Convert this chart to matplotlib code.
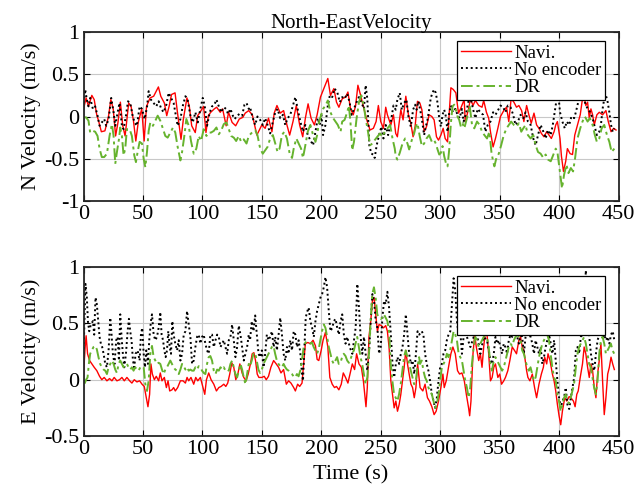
import matplotlib
matplotlib.use("Agg")
from matplotlib import pyplot as plt

plt.rcParams['font.family'] = ['Liberation Serif', 'DejaVu Serif']

# (time s, velocity m/s)
n_navi = [(0, 0.09), (2.2, 0.22), (4.2, 0.12), (7, 0.25), (9, 0.2), (11, 0.03), (13, -0.07), (15, -0.18),
          (18, -0.17), (21, 0.0), (23, 0.2), (25, 0.09), (27, -0.23), (29, -0.07), (31, 0.17), (33, -0.11),
          (35, -0.23), (38, 0.16), (40, 0.12), (42, -0.05), (44, -0.29), (46, -0.07), (49, 0.09), (51, -0.29),
          (53, 0.12), (56, 0.22), (59, 0.24), (63, 0.35), (65, 0.24), (68, 0.16), (70, 0.01), (72, 0.12),
          (74, 0.26), (77, 0.28), (79, 0.05), (82, -0.27), (84, -0.03), (87, 0.22), (89, 0.12), (91, -0.11),
          (94, -0.19), (96, 0.01), (98, 0.05), (101, 0.12), (103, -0.19), (105, 0.01), (107, 0.05), (110, 0.09),
          (112, 0.11), (115, 0.05), (117, 0.09), (120, -0.11), (122, 0.05), (125, -0.07), (128, -0.11),
          (131, -0.03), (134, -0.01), (136, 0.04), (139, 0.07), (142, 0.02), (145.8, -0.22), (150, -0.1),
          (152.8, -0.14), (155.6, -0.02), (158.5, -0.18), (160.4, 0.04), (162.7, 0.13), (165.5, 0.04),
          (168.3, 0.07), (171.1, -0.1), (173.4, -0.22), (176.2, -0.06), (179, 0.13), (181.8, -0.1),
          (184.4, -0.24), (186.6, -0.02), (188.9, 0.15), (191.4, -0.02), (194.2, -0.1), (196.5, 0.02),
          (199.3, 0.23), (202.1, 0.33), (205.5, 0.45), (207.7, 0.25), (210.6, 0.33), (212.8, 0.17),
          (214.8, 0.11), (217.6, 0.21), (220.4, 0.23), (222.4, 0.29), (224.6, 0.09), (226.9, 0.02),
          (228.9, 0.13), (230.8, 0.37), (233.1, 0.25), (235.9, 0.09), (238.7, -0.06), (241, -0.16),
          (243.8, -0.14), (246.1, -0.06), (248, 0.13), (250, -0.06), (252.3, -0.14), (254.2, 0.11),
          (255.6, 0.02), (258.5, -0.1), (260.7, 0.02), (262.6, -0.2), (264, -0.24), (266.9, 0.08),
          (268.8, -0.04), (271.1, 0.24), (273.3, 0.02), (275.3, -0.08), (277.2, -0.24), (278.9, -0.12),
          (280.9, 0.18), (282.9, 0.16), (284.6, 0.08), (286.5, -0.18), (288.5, -0.12), (290.7, 0.02),
          (293, 0.0), (294.9, -0.04), (296.9, -0.24), (298.6, -0.28), (300.6, -0.22), (302.5, -0.14),
          (304.2, -0.26), (306.2, -0.3), (307.6, 0.04), (309, 0.34), (311, 0.32), (313.2, 0.28),
          (315.4, 0.04), (317.4, 0.1), (320.2, 0.2), (321.1, -0.06), (323.9, 0.09),
          (325.4, 0.21), (327.6, 0.13), (329.6, 0.19), (332.4, 0.13), (335.2, 0.11), (336.6, 0.19),
          (338.9, 0.05), (340.8, -0.02), (342.3, -0.18), (344.5, -0.36), (346.5, -0.26), (348.5, -0.14),
          (350.7, 0.0), (353.5, 0.07), (355.8, 0.11), (357.7, -0.06), (359.7, 0.21), (362, 0.17), (364.2, 0.11),
          (366.2, 0.13), (368.5, 0.07), (370.4, -0.06), (372.7, 0.13), (374.6, 0.02), (376.6, -0.08),
          (378.9, 0.04), (381.1, -0.1), (383.1, -0.14), (385.1, -0.2), (387.3, -0.24), (389.6, -0.18),
          (391.6, -0.22), (393.5, -0.26), (395.8, -0.18), (397.2, -0.1), (398.6, -0.06), (400.8, -0.26),
          (402, -0.47), (403.7, -0.65), (405.6, -0.53), (407, -0.38), (409.3, -0.44), (411.3, -0.45),
          (413.2, -0.22), (415.5, -0.1), (417.8, 0.02), (419.7, 0.21), (421.1, 0.23), (422.5, 0.13),
          (424, 0.17), (425.4, -0.02), (426.8, 0.09), (428.2, 0.02), (429.6, -0.1), (431.8, 0.02),
          (433.8, 0.05), (436.6, 0.02), (439.4, 0.07), (441.4, -0.06), (443.7, -0.18), (445.9, -0.14),
          (447.9, -0.16)]

n_noenc = [(0, 0.16), (1.4, 0.32), (2.8, 0.2), (4.2, 0.12), (5.6, 0.22), (7.9, 0.09), (9.8, 0.12), (11.8, 0.01),
           (13.5, -0.11), (15.4, -0.07), (17.4, -0.03), (19.1, -0.11), (21.1, -0.03), (23.3, 0.22), (25.3, 0.05),
           (26.7, -0.11), (28.7, 0.05), (30.3, 0.16), (32.3, -0.11), (33.7, -0.15), (35.7, 0.01), (37.4, 0.18),
           (39.3, 0.16), (41.3, 0.01), (43, -0.07), (44.9, -0.11), (47.2, 0.12), (49.2, 0.09), (51.4, -0.03),
           (53.4, 0.11), (54.8, 0.3), (56.7, 0.2), (59, 0.16), (61.2, 0.12), (63.2, 0.18), (65.4, 0.09),
           (67.4, 0.05), (69.7, 0.14), (71.6, 0.28), (73.6, 0.22), (75.8, 0.16), (77.2, 0.05), (79.2, -0.11),
           (81.5, -0.03), (83.4, 0.12), (85.7, 0.24), (87.6, 0.2), (89.9, 0.01), (91.9, -0.07), (94.1, 0.05),
           (96.1, -0.07), (98.3, 0.09), (100.3, 0.22), (102, 0.12), (103.9, -0.11), (106.2, 0.05), (108.1, 0.12),
           (110.1, 0.14), (111.8, 0.2), (113.8, 0.12), (115.7, 0.05), (118, 0.11), (119.9, 0.09), (121.6, 0.03),
           (123.6, 0.09), (125.6, 0.01), (127.2, -0.03), (129.2, 0.01), (131.2, 0.03), (133.4, 0.01),
           (135.4, 0.14), (137.1, 0.16), (139, 0.09), (140.1, 0.11), (142.4, -0.02), (144.4, -0.1),
           (146.3, 0.0), (148.6, -0.04), (150.8, -0.1), (152.8, -0.02), (154.8, -0.1), (157, -0.2),
           (159.3, -0.06), (161.3, 0.05), (163.2, 0.09), (165.5, -0.02), (167.7, 0.02), (169.7, -0.1),
           (171.7, -0.02), (173.9, 0.02), (176.2, 0.13), (178.2, 0.23), (180.1, 0.09), (182.4, -0.06),
           (184.6, -0.18), (186.6, -0.1), (188.6, -0.22), (190.8, -0.28), (193.1, -0.34), (195.1, -0.18),
           (197, -0.02), (198.7, -0.1), (200.1, 0.02), (201.5, -0.22), (203.5, -0.1), (205.5, 0.13),
           (207.2, 0.25), (209.2, 0.23), (211.1, 0.33), (213.4, 0.29), (215.6, 0.17), (217.6, 0.23),
           (219.6, 0.21), (221.8, 0.27), (223.8, 0.17), (225.5, 0.02), (227.5, 0.09), (229.7, 0.17),
           (231.7, 0.23), (233.7, 0.17), (235.9, 0.09), (237.3, 0.37), (238.7, 0.21), (240.4, -0.34),
           (242.1, -0.44), (243.8, -0.45), (244.9, -0.49), (246.6, -0.34), (248.6, -0.22), (250.6, -0.12),
           (252.3, -0.26), (254.2, -0.1), (256.2, -0.22), (258.5, -0.06), (260.7, 0.13), (262.6, 0.08),
           (264, 0.2), (266, 0.28), (267.7, 0.08), (269.7, 0.16), (271.6, 0.2), (273.3, 0.0), (275.3, -0.12),
           (277.2, 0.08), (278.9, 0.14), (280.1, 0.08), (281.7, 0.18), (283.7, 0.04), (285.1, -0.08),
           (286.5, -0.22), (287.9, -0.12), (289.3, -0.04), (290.7, 0.08), (292.1, 0.22), (293.5, 0.28),
           (294.9, 0.32), (296.3, 0.28), (297.8, 0.16), (299.2, -0.02), (300.6, -0.12), (302, 0.02),
           (303.4, 0.08), (304.8, 0.0), (306.2, -0.18), (307.6, 0.04), (309, 0.13), (310.7, 0.05),
           (312.7, 0.09), (314.6, 0.02), (316.3, -0.02), (318.3, 0.09), (319.7, -0.06), (322, 0.05),
           (323.9, 0.19), (325.4, 0.23), (327.6, 0.09), (329.6, -0.02), (331.6, 0.09), (333.8, 0.05),
           (336.1, 0.02), (338, -0.18), (340, -0.1), (342.3, -0.06), (344.5, 0.05), (346.5, 0.02),
           (348.5, 0.07), (350.7, 0.13), (353, 0.11), (354.9, 0.05), (356.9, 0.13), (359.2, 0.11),
           (361.4, 0.02), (363.4, -0.1), (365.4, -0.06), (367.6, 0.02), (369.9, -0.02), (371.8, 0.05),
           (373.8, -0.06), (376.1, -0.1), (378.3, -0.26), (380.3, -0.34), (382.3, -0.22), (384.5, -0.1),
           (386.8, -0.18), (388.7, -0.26), (390.7, -0.16), (393, -0.22), (394.7, -0.1), (396.3, 0.05),
           (398, 0.21), (399.2, 0.29), (400.8, 0.05), (402.8, -0.06), (404.8, -0.14), (406.5, -0.06),
           (408.5, -0.1), (410.4, 0.0), (412.7, -0.02), (414.1, 0.05), (416.1, 0.17), (417.8, 0.25),
           (419.7, 0.29), (421.7, 0.17), (424, 0.09), (426.2, 0.05), (428.2, -0.02), (429.6, -0.1),
           (431.8, -0.22), (433.8, -0.18), (435.2, -0.1), (436.6, 0.09), (438, 0.21), (439.4, 0.25),
           (440.9, 0.17), (442.3, 0.05), (443.7, -0.1), (445.1, -0.18), (446.5, -0.14)]

n_dr = [(0, -0.01), (2.2, -0.01), (4.2, -0.05), (5.6, -0.19), (7.9, -0.17), (9.8, -0.18), (11.8, -0.23),
        (13.5, -0.38), (15.4, -0.48), (17.4, -0.48), (19.7, -0.44), (21.9, -0.23), (23.9, -0.09), (25.3, -0.23),
        (26.7, -0.56), (28.1, -0.42), (29.8, -0.27), (30.9, -0.13), (32.3, -0.23), (33.7, -0.46), (35.1, -0.38),
        (36.5, -0.15), (38.8, -0.15), (40.7, -0.23), (42.7, -0.46), (44.1, -0.54), (45.5, -0.42), (47.2, -0.3),
        (49.2, -0.32), (50.6, -0.5), (52, -0.6), (53.4, -0.42), (54.8, -0.17), (56.2, -0.07), (58.4, -0.11),
        (60.4, -0.05), (62.4, 0.01), (64.6, -0.05), (66.9, -0.15), (68.8, -0.23), (70.8, -0.25), (73, -0.19),
        (75.3, -0.13), (77.2, -0.19), (79.2, -0.36), (81.5, -0.52), (82.9, -0.42), (84.8, -0.23),
        (86.5, -0.03), (88.5, -0.11), (90.4, -0.29), (92.7, -0.44), (94.9, -0.38), (96.9, -0.23),
        (98.9, -0.29), (101.1, -0.15), (103.4, -0.23), (105.3, -0.19), (107.3, -0.19), (109.6, -0.17),
        (111.8, -0.13), (113.8, -0.21), (115.7, -0.17), (118, -0.09), (120.2, -0.07), (122.2, -0.15),
        (124.2, -0.23), (126.4, -0.25), (128.4, -0.29), (130.6, -0.23), (132.6, -0.3), (134.8, -0.27),
        (137.1, -0.32), (139, -0.23), (142.4, -0.18), (144.4, -0.16), (146.3, -0.22), (148.6, -0.38),
        (150.8, -0.44), (152.8, -0.4), (154.8, -0.36), (157, -0.26), (159.3, -0.22), (161.3, -0.32),
        (163.2, -0.42), (164.9, -0.38), (166.9, -0.22), (168.9, -0.18), (171.1, -0.26), (173.4, -0.44),
        (175.4, -0.49), (176.8, -0.38), (179, -0.26), (181, -0.32), (183, -0.38), (184.6, -0.49),
        (186.6, -0.34), (188.6, -0.18), (190.8, -0.1), (193.1, -0.22), (195.1, -0.3), (196.5, -0.22),
        (197.9, -0.08), (199.9, 0.02), (201.5, 0.09), (203.5, 0.13), (205.5, 0.19), (207.7, 0.05),
        (210, -0.02), (211.9, -0.06), (213.9, -0.1), (216.2, -0.18), (217.6, -0.06), (219.6, -0.04),
        (221.8, 0.05), (223.2, 0.13), (224.6, -0.08), (226, -0.4), (227.5, -0.3), (229.7, -0.02),
        (231.7, 0.17), (233.7, 0.25), (235.9, 0.11), (237.3, -0.02), (239.3, -0.18), (241, -0.34),
        (243, -0.32), (244.9, -0.28), (247.2, -0.24), (249.4, -0.2), (251.4, -0.24), (253.4, -0.18),
        (255.6, -0.14), (257.9, -0.1), (259.9, -0.26), (261.8, -0.38), (262.6, -0.47), (264, -0.51),
        (266, -0.43), (268.3, -0.32), (270.5, -0.26), (272.5, -0.32), (273.9, -0.39), (276.1, -0.28),
        (278.1, -0.2), (279.5, -0.12), (280.9, -0.08), (282.9, -0.24), (284.6, -0.35), (286.5, -0.32),
        (288.5, -0.26), (290.7, -0.22), (293, -0.3), (294.9, -0.28), (296.3, -0.32), (297.8, -0.39),
        (299.2, -0.45), (300.6, -0.43), (302, -0.35), (303.4, -0.47), (304.8, -0.55), (306.2, -0.59),
        (307.6, -0.39), (309, -0.08), (310.4, 0.12), (311.8, 0.14), (313.2, 0.08), (314.6, 0.0),
        (316, -0.04), (317.4, -0.12), (318.8, -0.08), (320.3, -0.14), (322.5, -0.02), (324.8, 0.13),
        (326.8, -0.1), (328.7, -0.14), (331, -0.06), (333.2, -0.1), (335.2, -0.18), (337.2, -0.22),
        (339.4, -0.26), (341.4, -0.18), (343.1, -0.42), (344.5, -0.53), (345.6, -0.59), (347.3, -0.49),
        (349.3, -0.44), (351.3, -0.34), (353.5, -0.22), (355.8, -0.14), (357.7, -0.1), (359.7, -0.06),
        (362, -0.1), (364.2, -0.12), (366.2, -0.08), (368.2, -0.18), (369.9, -0.14), (371.8, -0.1),
        (373.8, -0.22), (376.1, -0.26), (378.3, -0.22), (380.3, -0.34), (382.3, -0.42), (384.5, -0.44),
        (386.8, -0.49), (388.7, -0.45), (390.7, -0.51), (393, -0.53), (395.2, -0.45), (397.2, -0.38),
        (398.6, -0.42), (400, -0.57), (401.4, -0.73), (402.5, -0.85), (404.2, -0.69), (406.2, -0.57),
        (407.9, -0.67), (409.9, -0.61), (411.8, -0.65), (413.5, -0.49), (415.5, -0.26), (417.8, -0.14),
        (419.7, -0.06), (421.7, 0.0), (424, -0.06), (425.9, -0.02), (428.2, -0.1), (430.1, -0.22),
        (431.8, -0.3), (433.8, -0.26), (435.8, -0.14), (438, -0.1), (440.3, -0.22), (442.3, -0.3),
        (444.2, -0.42), (446.5, -0.38)]

e_navi = [(0, 0.05), (1.4, 0.29), (2.2, 0.39), (3.4, 0.23), (5.1, 0.17), (7, 0.14), (9, 0.11), (11.2, 0.08),
          (13.5, 0.03), (15.4, 0.0), (17.4, 0.02), (19.7, -0.01), (21.9, 0.01), (23.9, -0.01), (25.8, 0.02),
          (28.1, -0.01), (30.3, 0.0), (32.3, 0.02), (34.3, -0.01), (36.5, 0.02), (38.8, -0.01), (40.7, -0.03),
          (42.7, 0.0), (44.9, -0.02), (47.2, -0.01), (49.2, -0.04), (51.1, -0.06), (52.8, -0.16), (54.2, -0.24),
          (55.6, -0.13), (56.7, 0.14), (57.9, 0.05), (59.6, 0.0), (61.2, 0.03), (63.2, -0.01), (64.6, 0.06),
          (66, -0.01), (68, 0.02), (69.7, -0.07), (71.1, -0.01), (72.5, -0.1), (74.4, -0.09), (75.8, -0.07),
          (77.2, -0.1), (79.2, -0.07), (81.5, -0.01), (83.7, -0.01), (85.7, -0.03), (87.1, 0.02), (88.5, -0.01),
          (90.4, 0.02), (92.7, -0.04), (94.4, 0.02), (96.1, -0.01), (98.3, 0.02), (100.3, -0.06), (102, -0.13),
          (103.4, 0.0), (105.3, 0.06), (107.3, 0.0), (109.6, -0.04), (111.8, -0.1), (113.8, -0.07),
          (115.7, -0.06), (118, -0.04), (119.7, -0.06), (121.3, -0.03), (123, 0.05), (124.7, 0.15),
          (126.4, 0.11), (128.1, 0.0), (129.8, 0.05), (131.5, 0.14), (133.4, 0.06), (134.8, 0.02),
          (136.8, -0.01), (138.5, 0.05), (140.4, 0.14), (141.9, 0.23), (143.3, 0.24), (144.7, 0.17),
          (146.1, 0.05), (147.5, 0.02), (150, 0.02), (152, 0.03), (153.7, 0.0), (155.6, 0.03), (157.6, 0.11),
          (159.9, 0.17), (162.1, 0.14), (164.1, 0.11), (166.1, 0.06), (168.3, 0.09), (170.6, -0.04),
          (172.5, -0.01), (174.5, -0.03), (176.8, -0.07), (178.2, -0.1), (180.1, -0.04), (181.8, -0.06),
          (183.8, -0.03), (185.2, 0.14), (186.6, 0.32), (188.6, 0.33), (190.8, 0.32), (193.1, 0.35),
          (195.1, 0.3), (196.5, 0.18), (197.9, 0.17), (199.9, 0.26), (201.5, 0.35), (203.5, 0.42),
          (205.5, 0.29), (207.2, 0.02), (209.2, -0.04), (211.1, -0.07), (212.8, -0.06), (214.8, -0.09),
          (216.8, -0.04), (218.5, 0.06), (220.4, 0.02), (222.4, -0.03), (224.1, 0.05), (226.1, 0.14),
          (228, 0.09), (229.7, 0.23), (231.7, 0.14), (233.7, 0.11), (235.4, -0.01), (236.5, -0.13),
          (237.6, -0.24), (238.7, -0.07), (240.1, 0.38), (241.6, 0.52), (243, 0.7), (244.4, 0.73),
          (245.8, 0.58), (247.2, 0.43), (248.6, 0.49), (250.6, 0.48), (252.3, 0.46), (254.2, 0.48),
          (255.6, 0.43), (257, 0.29), (258.5, -0.01), (259.9, -0.13), (261.3, -0.25), (262.7, -0.19),
          (264.1, -0.28), (265.5, -0.22), (266.9, -0.13), (268.3, -0.01), (269.7, 0.11), (271.1, 0.26),
          (272.5, 0.14), (273.9, 0.05), (275.4, -0.04), (276.8, -0.07), (278.2, -0.16), (279.6, -0.07),
          (281, 0.14), (283.1, -0.07), (285.4, -0.1), (287.3, -0.04), (289.3, -0.16), (291, -0.19),
          (293, -0.24), (294.9, -0.31), (296.6, -0.28), (298.6, -0.19), (300.6, -0.07), (302.3, 0.05),
          (303.4, -0.07), (305.1, -0.01), (307, 0.11), (309, 0.23), (310.7, 0.29), (312.7, 0.23),
          (314.6, 0.08), (316.3, 0.05), (318.3, 0.06), (320.3, -0.01), (322, -0.13), (323.9, -0.25),
          (324.8, -0.32), (325.9, -0.19), (327.6, 0.23), (329, 0.4), (330.4, 0.29), (332.4, 0.17),
          (333.8, 0.23), (335.2, 0.11), (336.6, 0.29), (338, 0.43), (339.4, 0.4), (340.8, 0.23),
          (342.3, -0.01), (343.7, 0.02), (345.1, 0.11), (346.5, 0.14), (348.5, 0.02), (350.1, 0.05),
          (351.6, -0.04), (353.5, -0.01), (354.9, 0.02), (356.9, 0.08), (358.6, 0.17), (360.6, 0.29),
          (362.5, 0.26), (364.2, 0.23), (366.2, 0.35), (367.6, 0.38), (369, 0.29), (370.4, 0.26),
          (372.7, 0.08), (373.8, 0.02), (375.5, -0.01), (377.5, 0.05), (379.4, -0.07), (381.1, -0.16),
          (383.1, -0.04), (385.1, 0.05), (386.8, 0.11), (387.9, 0.2), (389.6, 0.14), (390.7, 0.23),
          (392.4, 0.17), (394.4, 0.05), (395.8, -0.01), (397.2, -0.1), (398.6, -0.22), (400, -0.32),
          (401.4, -0.4), (402.8, -0.28), (404.8, -0.16), (406.5, -0.19), (408.5, -0.15), (409.9, -0.16),
          (412.1, -0.19), (413.5, -0.24), (414.9, -0.13), (416.1, -0.1), (417.8, 0.02), (419.7, 0.14),
          (421.1, 0.29), (422.5, 0.23), (424, 0.11), (425.4, 0.02), (426.8, 0.14), (428.2, 0.08),
          (429.6, -0.07), (431, -0.16), (432.4, 0.05), (433.8, 0.17), (435.2, 0.32), (436.6, -0.01),
          (438, -0.31), (439.4, -0.16), (440.9, 0.05), (442.3, 0.11), (443.7, 0.2), (445.1, 0.14),
          (446.5, 0.09)]

e_noenc = [(0, 0.23), (0.8, 0.52), (1.7, 0.85), (2.8, 0.73), (3.7, 0.52), (4.8, 0.43), (6.2, 0.49), (7.9, 0.52),
           (9, 0.4), (10.1, 0.73), (11.2, 0.67), (12.4, 0.52), (13.5, 0.38), (14.6, 0.32), (15.7, 0.29),
           (16.9, 0.23), (18.3, 0.14), (19.7, 0.11), (21.1, 0.26), (22.5, 0.55), (23.6, 0.4), (24.7, 0.23),
           (26.1, 0.14), (27.5, 0.35), (28.7, 0.38), (29.8, 0.17), (30.9, 0.58), (32, 0.38), (33.1, 0.23),
           (34.3, 0.11), (35.7, 0.23), (37.1, 0.43), (38.2, 0.54), (39.3, 0.43), (40.4, 0.35), (41.6, 0.17),
           (42.7, 0.11), (43.8, 0.23), (45.5, 0.26), (47.2, 0.17), (48.3, 0.4), (49.4, 0.46), (50.6, 0.23),
           (51.7, 0.11), (52.8, 0.26), (54.2, 0.14), (55.3, 0.35), (56.7, 0.52), (57.6, 0.58), (59, 0.4),
           (60.4, 0.35), (61.8, 0.38), (63.2, 0.46), (64.6, 0.6), (65.7, 0.4), (66.9, 0.35), (68, 0.26),
           (69.1, 0.2), (70.2, 0.26), (71.3, 0.43), (72.5, 0.29), (73.6, 0.23), (74.7, 0.52), (75.8, 0.4),
           (77.2, 0.32), (78.7, 0.26), (80.1, 0.35), (81.5, 0.17), (82.9, 0.23), (84.3, 0.4), (85.7, 0.43),
           (87.1, 0.61), (88.5, 0.49), (89.9, 0.38), (91.3, 0.14), (92.7, 0.17), (94.1, 0.29), (95.5, 0.38),
           (96.9, 0.4), (98.3, 0.32), (99.7, 0.38), (101.1, 0.4), (102.5, 0.32), (103.9, 0.26), (105.3, 0.23),
           (106.7, 0.4), (108.1, 0.4), (109.6, 0.29), (111, 0.35), (112.4, 0.4), (113.8, 0.38), (115.2, 0.29),
           (116.6, 0.32), (118, 0.35), (119.4, 0.29), (120.8, 0.23), (122.2, 0.35), (123.6, 0.38), (125, 0.49),
           (126.4, 0.35), (127.8, 0.2), (129.2, 0.29), (130.6, 0.48), (132, 0.4), (133.4, 0.29), (134.8, 0.17),
           (136.2, 0.23), (137.6, 0.29), (139, 0.4), (140.1, 0.35), (141.5, 0.52), (143, 0.43), (144.4, 0.57),
           (145.8, 0.4), (147.2, 0.23), (148.6, 0.2), (150, 0.26), (151.4, 0.11), (152.8, 0.23), (154.2, 0.4),
           (155.6, 0.35), (157, 0.38), (158.5, 0.43), (159.9, 0.29), (161.3, 0.38), (162.7, 0.26), (164.1, 0.4),
           (165.5, 0.55), (166.9, 0.4), (168.3, 0.23), (169.7, 0.17), (171.1, 0.29), (172.5, 0.23),
           (173.9, 0.35), (175.4, 0.26), (176.8, 0.43), (178.2, 0.4), (179.6, 0.29), (181, 0.35), (182.4, 0.23),
           (183.8, 0.05), (184.6, -0.01), (185.8, 0.29), (186.9, 0.55), (188, 0.6), (189.4, 0.64), (190.8, 0.52),
           (192.3, 0.46), (193.7, 0.38), (195.1, 0.52), (196.5, 0.61), (197.9, 0.67), (199.3, 0.73),
           (200.7, 0.76), (202.1, 0.82), (203.5, 0.91), (204.9, 0.82), (206.3, 0.61), (207.7, 0.43),
           (209.2, 0.46), (210.6, 0.52), (212, 0.54), (213.4, 0.46), (214.8, 0.4), (216.2, 0.52), (217.6, 0.58),
           (219, 0.4), (220.4, 0.32), (221.8, 0.38), (223.2, 0.32), (224.6, 0.27), (226.1, 0.23), (227.5, 0.35),
           (228.9, 0.46), (230.3, 0.85), (231.7, 0.64), (233.1, 0.38), (234.5, 0.23), (235.9, 0.38),
           (237.3, 0.23), (238.7, 0.08), (240.1, 0.23), (241.6, 0.52), (243, 0.76), (244.4, 0.7), (245.8, 0.52),
           (247.2, 0.46), (248.6, 0.23), (250, 0.29), (251.4, 0.55), (252.8, 0.7), (254.2, 0.67), (255.6, 0.78),
           (257, 0.64), (258.5, 0.4), (259.9, 0.14), (261.3, 0.02), (262.7, 0.14), (264.1, 0.2), (265.5, 0.14),
           (266.9, 0.23), (268.3, 0.29), (269.7, 0.4), (271.1, 0.58), (272.5, 0.4), (273.9, 0.23), (275.4, 0.14),
           (276.8, 0.17), (278.2, 0.05), (279.6, 0.23), (281, 0.43), (282.4, 0.4), (284.5, 0.43), (285.9, 0.4),
           (287.3, 0.23), (288.7, 0.14), (290.1, 0.08), (291.5, -0.01), (293, -0.13), (294.4, -0.19),
           (295.8, -0.25), (297.2, -0.16), (298.6, -0.01), (300, 0.11), (301.4, 0.14), (302.8, 0.23),
           (304.2, 0.26), (305.6, 0.35), (307, 0.4), (308.5, 0.43), (309.9, 0.67), (311.3, 0.9), (312.7, 0.79),
           (314.1, 0.52), (315.5, 0.4), (316.9, 0.43), (318.3, 0.23), (319.7, 0.38), (321.1, 0.58),
           (322.5, 0.38), (325.4, 0.29), (328.2, 0.38), (331, 0.4), (333.8, 0.23), (336.6, 0.38), (339.4, 0.35),
           (342.3, 0.17), (343.7, 0.14), (345.1, 0.23), (346.5, 0.38), (347.9, 0.32), (349.3, 0.35),
           (350.7, 0.29), (352.1, 0.23), (353.5, 0.32), (354.9, 0.29), (356.3, 0.23), (357.7, 0.35),
           (359.2, 0.4), (360.6, 0.38), (362, 0.43), (363.4, 0.4), (364.8, 0.38), (366.2, 0.32), (367.6, 0.39),
           (369, 0.38), (370.4, 0.23), (371.8, 0.38), (373.2, 0.46), (374.6, 0.4), (376.1, 0.38), (377.5, 0.32),
           (378.9, 0.23), (380.3, 0.35), (381.7, 0.29), (383.1, 0.23), (384.5, 0.29), (385.9, 0.14),
           (387.3, 0.2), (388.7, 0.29), (390.1, 0.35), (391.6, 0.4), (393, 0.32), (394.4, 0.23), (395.8, 0.35),
           (397.2, 0.17), (398.6, -0.01), (400, -0.16), (401.4, -0.25), (402.8, -0.19), (404.2, -0.16),
           (405.6, -0.07), (407, -0.22), (408.5, -0.26), (409.9, -0.16), (411.3, -0.07), (412.7, 0.02),
           (414.1, 0.26), (415.5, 0.29), (416.9, 0.23), (418.3, 0.38), (419.7, 0.4), (421.1, 0.52),
           (422.5, 0.97), (424, 0.58), (425.4, 0.38), (426.8, 0.23), (428.2, 0.14), (429.6, 0.08), (431, 0.23),
           (432.4, 0.35), (433.8, 0.4), (435.2, 0.43), (436.6, 0.38), (438, 0.4), (439.4, 0.35), (440.9, 0.38),
           (442.3, 0.32), (443.7, 0.4), (445.1, 0.43), (446.5, 0.35)]

e_dr = [(0, -0.01), (1.1, -0.03), (2.2, 0.0), (3.4, 0.02), (4.5, 0.14), (5.6, 0.23), (7, 0.26), (8.4, 0.29),
        (9.8, 0.3), (11.2, 0.27), (12.6, 0.2), (14, 0.14), (15.4, 0.11), (16.9, 0.09), (18.3, 0.08), (19.7, 0.05),
        (21.1, 0.11), (22.5, 0.14), (23.9, 0.17), (25.3, 0.14), (26.7, 0.09), (28.1, 0.06), (29.5, 0.14),
        (30.9, 0.17), (32.3, 0.14), (33.7, 0.11), (35.1, 0.14), (36.5, 0.14), (37.9, 0.11), (39.3, 0.09),
        (40.7, 0.11), (42.1, 0.08), (43.5, 0.11), (44.9, 0.09), (46.3, 0.08), (47.8, 0.11), (49.2, 0.12),
        (50.6, 0.11), (52, -0.04), (53.4, -0.1), (54.8, -0.01), (56.2, 0.23), (57.6, 0.3), (59, 0.2),
        (60.4, 0.17), (61.8, 0.14), (63.2, 0.15), (64.6, 0.14), (66, 0.09), (67.4, 0.05), (68.8, 0.09),
        (70.2, 0.11), (71.6, 0.14), (73, 0.17), (74.4, 0.14), (75.8, 0.11), (77.2, 0.09), (78.7, 0.08),
        (80.1, 0.05), (81.5, 0.09), (82.9, 0.14), (84.3, 0.12), (85.7, 0.09), (87.1, 0.11), (88.5, 0.08),
        (89.9, 0.09), (91.3, 0.08), (92.7, 0.08), (94.1, 0.11), (95.5, 0.09), (96.9, 0.12), (98.3, 0.11),
        (99.7, 0.08), (101.1, 0.06), (102.5, 0.05), (103.9, 0.14), (105.3, 0.2), (106.7, 0.21), (108.1, 0.17),
        (109.6, 0.08), (111, 0.05), (112.4, 0.09), (113.8, 0.08), (115.2, 0.11), (116.6, 0.09), (118, 0.11),
        (119.4, 0.08), (120.8, 0.09), (122.2, 0.08), (123.6, 0.14), (125, 0.17), (126.4, 0.11), (127.8, 0.05),
        (129.2, 0.02), (130.6, 0.08), (132, 0.14), (133.4, 0.09), (134.8, 0.02), (136.2, -0.04), (137.6, 0.05),
        (139, 0.14), (140.1, 0.12), (141.5, 0.17), (142.9, 0.23), (144.3, 0.24), (145.7, 0.17), (147.1, 0.09),
        (148.5, 0.06), (150.0, 0.09), (151.4, 0.14), (152.8, 0.17), (154.2, 0.2), (155.6, 0.23), (157.0, 0.26),
        (158.4, 0.29), (159.8, 0.3), (161.2, 0.23), (162.6, 0.17), (164.0, 0.14), (165.4, 0.12), (166.9, 0.11),
        (168.3, 0.14), (169.7, 0.11), (171.1, 0.09), (172.5, 0.08), (173.9, 0.06), (175.3, 0.05), (176.7, 0.03),
        (178.1, 0.02), (179.5, 0.05), (180.9, 0.03), (182.3, 0.08), (183.7, 0.17), (185.2, 0.29), (186.6, 0.33),
        (188.0, 0.34), (189.4, 0.33), (190.8, 0.32), (192.2, 0.33), (193.6, 0.29), (195.0, 0.26), (196.4, 0.23),
        (197.8, 0.27), (199.2, 0.35), (200.6, 0.43), (202.1, 0.49), (203.5, 0.46), (204.9, 0.38), (206.3, 0.29),
        (207.7, 0.23), (209.1, 0.17), (210.5, 0.14), (211.9, 0.17), (213.3, 0.2), (214.7, 0.14), (216.1, 0.15),
        (217.5, 0.2), (218.9, 0.23), (220.4, 0.21), (221.8, 0.17), (223.2, 0.15), (224.6, 0.18), (226.0, 0.23),
        (227.4, 0.26), (228.8, 0.32), (230.2, 0.38), (231.6, 0.29), (233.0, 0.2), (234.4, 0.14), (235.8, 0.05),
        (237.3, -0.04), (238.7, 0.02), (240.1, 0.23), (241.5, 0.52), (242.9, 0.76), (244.3, 0.82),
        (245.7, 0.73), (247.1, 0.58), (248.5, 0.55), (249.9, 0.54), (251.3, 0.55), (252.7, 0.58), (254.1, 0.55),
        (255.6, 0.52), (257.0, 0.43), (258.4, 0.14), (259.8, -0.01), (261.2, -0.13), (262.6, -0.16),
        (264.0, -0.19), (265.4, -0.13), (266.8, -0.04), (268.2, 0.08), (269.6, 0.2), (271.0, 0.26),
        (272.5, 0.2), (273.9, 0.14), (275.3, 0.08), (276.7, 0.02), (278.1, -0.04), (279.5, -0.01),
        (280.9, 0.11), (282.3, 0.2), (283.1, 0.14), (284.5, 0.17), (285.9, 0.08), (287.3, 0.02), (288.7, -0.01),
        (290.1, -0.07), (291.5, -0.1), (293.0, -0.13), (294.4, -0.19), (295.8, -0.25), (297.2, -0.22),
        (298.6, -0.13), (300.0, -0.01), (301.4, 0.11), (302.8, 0.14), (304.2, 0.17), (305.6, 0.23),
        (307.0, 0.2), (308.4, 0.26), (309.9, 0.35), (311.3, 0.43), (312.7, 0.4), (314.1, 0.35), (315.5, 0.23),
        (316.9, 0.2), (318.3, 0.17), (319.7, 0.08), (321.1, -0.01), (322.5, -0.07), (323.9, -0.16),
        (325.3, -0.07), (326.7, 0.14), (328.2, 0.29), (329.6, 0.38), (331.0, 0.35), (332.4, 0.29),
        (333.8, 0.32), (335.2, 0.35), (336.6, 0.38), (338.0, 0.4), (339.4, 0.38), (340.8, 0.29), (342.2, 0.14),
        (343.6, 0.08), (345.1, 0.17), (346.5, 0.2), (347.9, 0.17), (349.3, 0.14), (350.7, 0.11), (352.1, 0.08),
        (353.5, 0.11), (354.9, 0.17), (356.3, 0.23), (357.7, 0.29), (359.1, 0.32), (360.5, 0.3), (362.0, 0.35),
        (363.4, 0.38), (364.8, 0.4), (366.2, 0.38), (367.6, 0.35), (369.0, 0.26), (370.4, 0.23), (371.8, 0.17),
        (373.2, 0.11), (374.6, 0.08), (376.0, 0.11), (377.4, 0.05), (378.8, -0.01), (380.3, 0.02),
        (381.7, 0.11), (383.1, 0.2), (384.5, 0.26), (385.9, 0.32), (387.3, 0.35), (388.7, 0.38), (390.1, 0.4),
        (391.5, 0.35), (392.9, 0.23), (394.3, 0.11), (395.7, 0.02), (397.2, -0.01), (398.6, -0.13),
        (400.0, -0.19), (401.4, -0.28), (402.8, -0.22), (404.2, -0.16), (405.6, -0.13), (407.0, -0.19),
        (408.4, -0.21), (409.8, -0.16), (411.2, -0.1), (412.6, -0.04), (414.1, 0.11), (415.5, 0.23),
        (416.9, 0.29), (418.3, 0.32), (419.7, 0.35), (421.1, 0.38), (422.5, 0.32), (423.9, 0.23), (425.3, 0.14),
        (426.7, 0.11), (428.1, 0.02), (429.5, -0.07), (431.0, -0.13), (432.4, -0.01), (433.8, 0.23),
        (435.2, 0.35), (436.6, 0.38), (438.0, 0.32), (439.4, 0.23), (440.8, 0.26), (442.2, 0.29), (443.6, 0.32),
        (445.0, 0.26), (446.4, 0.23)]

labels = ["Navi.", "No encoder", "DR"]
x_ticks = [0, 50, 100, 150, 200, 250, 300, 350, 400, 450]


def split(pairs):
    return [p[0] for p in pairs], [p[1] for p in pairs]


fig = plt.figure(figsize=(6.36, 5.01), dpi=100)
ax1 = fig.add_axes([0.1313, 0.5988, 0.8412, 0.3373])
ax2 = fig.add_axes([0.1313, 0.1297, 0.8412, 0.3373])

panels = [(ax1, n_navi, n_noenc, n_dr, (-1, 1), [-1, -0.5, 0, 0.5, 1], "N Velocity (m/s)"),
          (ax2, e_navi, e_noenc, e_dr, (-0.5, 1), [-0.5, 0, 0.5, 1], "E Velocity (m/s)")]

for ax, navi, noenc, dr, ylim, yticks, ylab in panels:
    ax.plot(*split(navi), color='#ff0000', lw=1.0, label=labels[0])
    ax.plot(*split(noenc), color='black', lw=1.4, ls=(0, (1, 1.5)), label=labels[1])
    ax.plot(*split(dr), color='#66b32e', lw=1.4, ls=(0, (6, 2, 1.5, 2)), label=labels[2])
    ax.set_xlim(0, 450)
    ax.set_ylim(*ylim)
    ax.set_xticks(x_ticks)
    ax.set_yticks(yticks)
    ax.set_yticklabels(["%g" % v for v in yticks])
    ax.grid(True, color='#c8c8c8', lw=0.8)
    ax.set_axisbelow(True)
    ax.tick_params(direction='in', top=True, right=True, length=4, width=0.8, labelsize=16, pad=3)
    for s in ax.spines.values():
        s.set_linewidth(1.3)
        s.set_color('#262626')
    ax.set_ylabel(ylab, fontsize=16, labelpad=2)
    leg = ax.legend(loc='upper right', bbox_to_anchor=(0.975, 0.947), borderaxespad=0, fontsize=13.5,
                    fancybox=False, framealpha=1, edgecolor='black', handlelength=2.7,
                    handletextpad=0.15, labelspacing=0.0, borderpad=0.2)
    leg.get_frame().set_linewidth(0.9)

ax1.set_title("North-EastVelocity", fontsize=15, pad=3)
ax2.set_xlabel("Time (s)", fontsize=16, labelpad=4)

plt.savefig("out.png", dpi=100)
